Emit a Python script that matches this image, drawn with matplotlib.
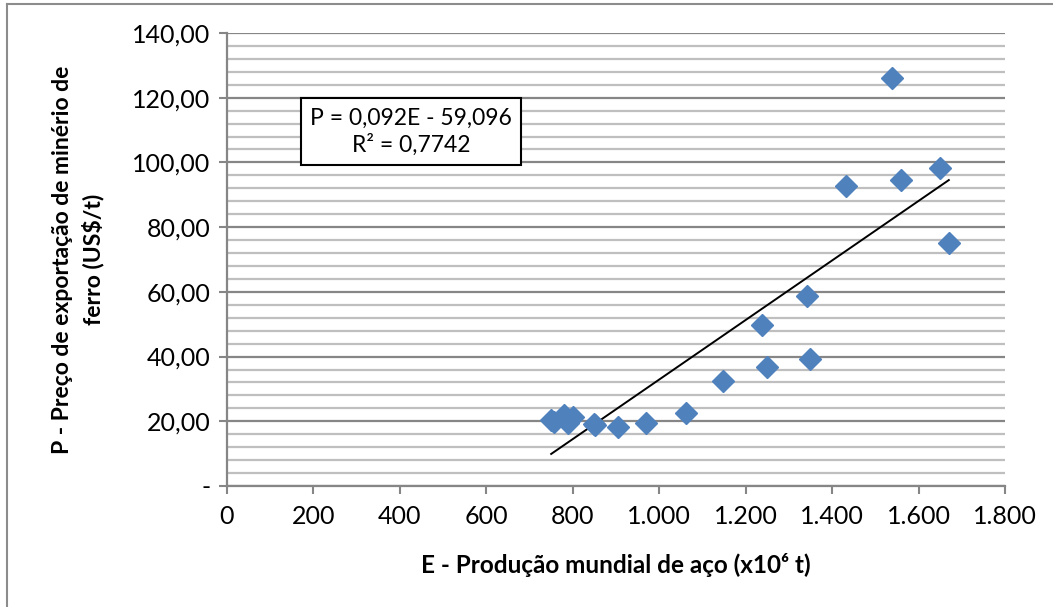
import matplotlib.pyplot as plt
from matplotlib.ticker import MultipleLocator, FixedLocator
from matplotlib.lines import Line2D

plt.rcParams['font.family'] = ['Lato', 'DejaVu Sans']

# producao mundial de aco (10^6 t) e preco de exportacao (US$/t)
producao = [750, 757, 780, 790, 800, 848, 851, 904, 970, 1063, 1148, 1250,
            1238, 1343, 1348, 1433, 1538, 1560, 1650, 1670]
preco = [20.5, 19.8, 21.8, 19.6, 21.2, 19.2, 18.8, 18.2, 19.5, 22.6, 32.4, 36.8,
         49.7, 58.7, 39.2, 92.7, 126.1, 94.6, 98.3, 75.1]

# linha de tendencia
coef_a = 0.092
coef_b = -59.096
r2 = 0.7742

x_ticks = [0, 200, 400, 600, 800, 1000, 1200, 1400, 1600, 1800]
x_labels = ['0', '200', '400', '600', '800', '1.000', '1.200', '1.400', '1.600', '1.800']
y_ticks = [0, 20, 40, 60, 80, 100, 120, 140]
y_labels = ['-', '20,00', '40,00', '60,00', '80,00', '100,00', '120,00', '140,00']

fig = plt.figure(figsize=(10.53, 6.07), dpi=100)
ax = fig.add_axes([227 / 1053, 1 - 486 / 607, 778 / 1053, 453 / 607])

ax.set_xlim(0, 1800)
ax.set_ylim(0, 140)

ax.yaxis.set_minor_locator(MultipleLocator(4))
ax.grid(which='minor', axis='y', color='#bfbfbf', linewidth=1.6, zorder=0)
ax.grid(which='major', axis='y', color='#868686', linewidth=1.6, zorder=0)
ax.set_axisbelow(True)

xmin, xmax = min(producao), max(producao)
ax.plot([xmin, xmax], [coef_a * xmin + coef_b, coef_a * xmax + coef_b],
        color='black', linewidth=1.4, zorder=2)
ax.plot(producao, preco, linestyle='none', marker='D', markersize=11,
        color='#4f81bd', markeredgecolor='#4f81bd', zorder=3)

ax.xaxis.set_major_locator(FixedLocator(x_ticks))
ax.set_xticklabels(x_labels)
ax.yaxis.set_major_locator(FixedLocator(y_ticks))
ax.set_yticklabels(y_labels)
ax.tick_params(axis='both', which='major', labelsize=18, length=6, width=1.5,
               color='#868686', direction='out', pad=6)
ax.tick_params(axis='x', which='major', pad=8)
ax.tick_params(axis='y', which='minor', length=0)

for s in ['top', 'right']:
    ax.spines[s].set_visible(False)
for s in ['left', 'bottom']:
    ax.spines[s].set_color('#868686')
    ax.spines[s].set_linewidth(1.6)

ax.set_xlabel('E - Produção mundial de aço (x10⁶ t)', fontsize=17.5,
              fontweight='bold', labelpad=18)
ax.set_ylabel('P - Preço de exportação de minério de\nferro (US$/t)',
              fontsize=16.5, fontweight='bold', labelpad=20, linespacing=1.45)

ax.text(0.237, 0.782,
        'P = 0,092E - 59,096\nR² = ' + f'{r2:.4f}'.replace('.', ','),
        transform=ax.transAxes, ha='center', va='center', fontsize=16.5,
        linespacing=1.3, zorder=4,
        bbox=dict(boxstyle='square,pad=0.4', facecolor='white',
                  edgecolor='black', linewidth=1.5))

# borda da area do grafico
fig.add_artist(Line2D([7 / 1053, 7 / 1053], [0, 1 - 4 / 607],
                      transform=fig.transFigure, color='#8c8c8c', linewidth=1.5))
fig.add_artist(Line2D([7 / 1053, 1052 / 1053], [1 - 4 / 607, 1 - 4 / 607],
                      transform=fig.transFigure, color='#8c8c8c', linewidth=1.5))

fig.savefig('out.png', dpi=100)
